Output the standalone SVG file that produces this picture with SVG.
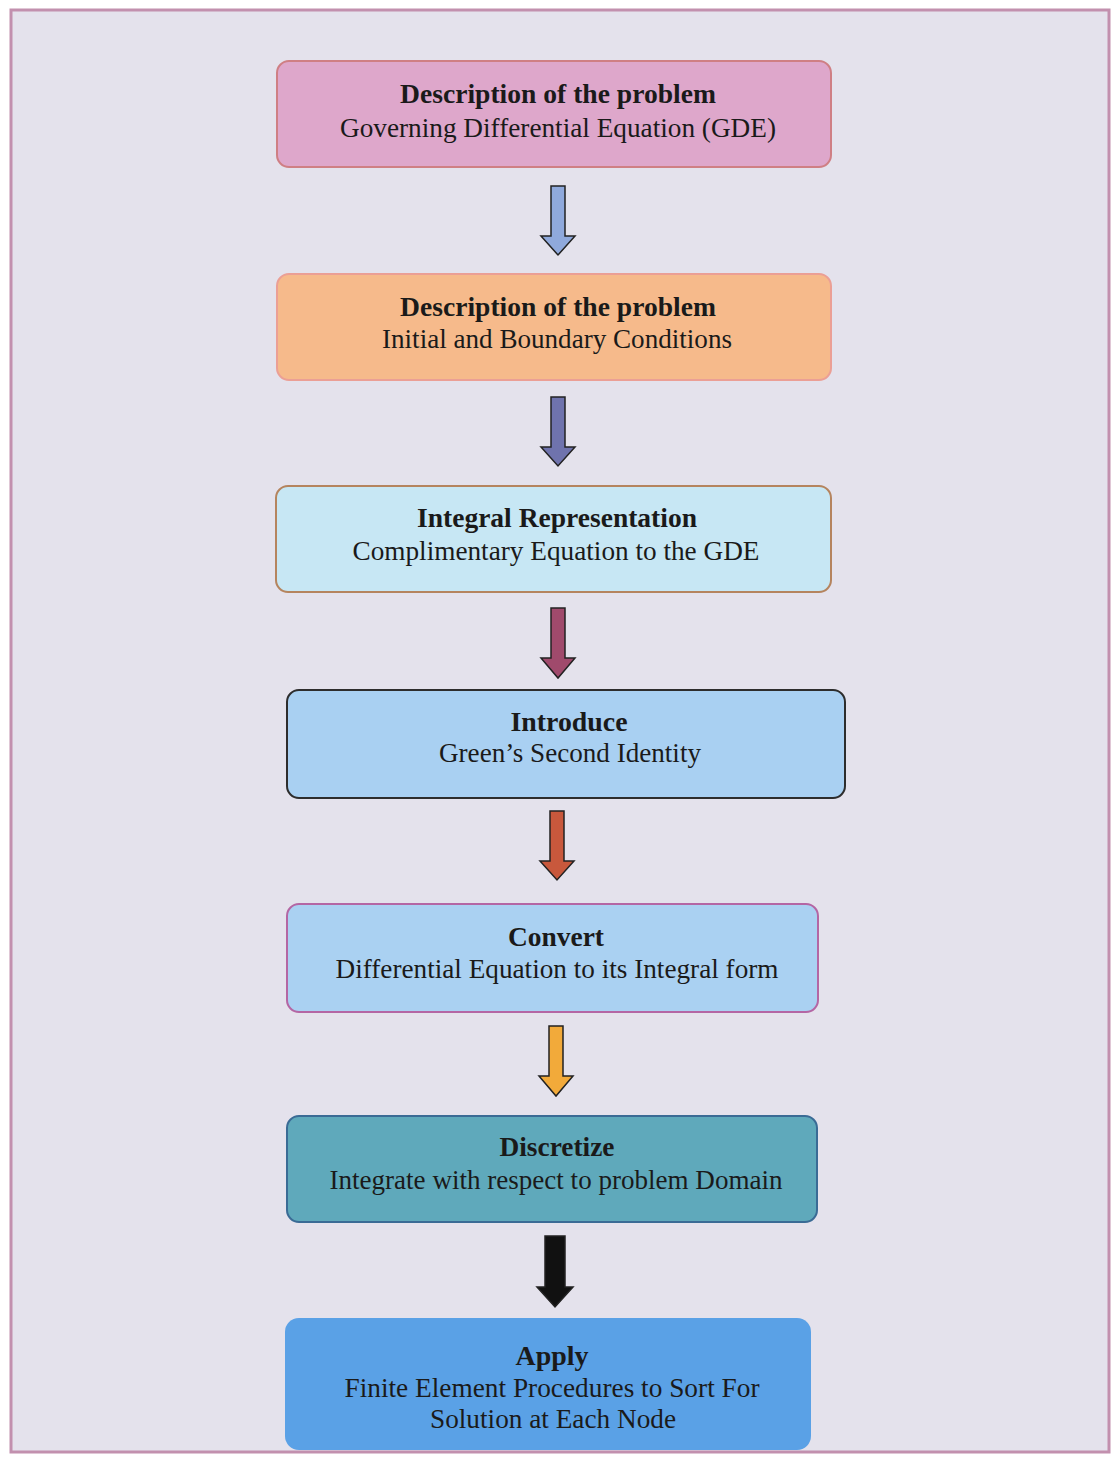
<svg xmlns="http://www.w3.org/2000/svg" width="1114" height="1462" viewBox="0 0 1114 1462">
<style>
.t{font-family:"Liberation Serif","Times New Roman",serif;font-size:27px;fill:#1a1a1a;text-anchor:middle}
.b{font-weight:bold}
.box{stroke-width:2}
.arr{stroke:#222;stroke-width:1.5;stroke-linejoin:miter}
</style>
<rect x="0" y="0" width="1114" height="1462" fill="#ffffff"/>
<rect x="11" y="10" width="1098" height="1442" fill="#e4e2ec" stroke="#c290ae" stroke-width="3"/>
<g id="n1">
<rect class="box" x="277" y="61" width="554" height="106" rx="12" fill="#dea7cb" stroke="#cf7f84"/>
<text class="t b" x="558" y="103" textLength="316" lengthAdjust="spacingAndGlyphs">Description of the problem</text>
<text class="t" x="558" y="137" textLength="436" lengthAdjust="spacingAndGlyphs">Governing Differential Equation (GDE)</text>
</g>
<g id="n2">
<rect class="box" x="277" y="274" width="554" height="106" rx="12" fill="#f6ba8b" stroke="#eb9f95"/>
<text class="t b" x="558" y="316" textLength="316" lengthAdjust="spacingAndGlyphs">Description of the problem</text>
<text class="t" x="557" y="348" textLength="350" lengthAdjust="spacingAndGlyphs">Initial and Boundary Conditions</text>
</g>
<g id="n3">
<rect class="box" x="276" y="486" width="555" height="106" rx="12" fill="#c7e7f4" stroke="#b5845e"/>
<text class="t b" x="557" y="527" textLength="280" lengthAdjust="spacingAndGlyphs">Integral Representation</text>
<text class="t" x="556" y="560" textLength="407" lengthAdjust="spacingAndGlyphs">Complimentary Equation to the GDE</text>
</g>
<g id="n4">
<rect class="box" x="287" y="690" width="558" height="108" rx="12" fill="#a9d0f2" stroke="#2d2d2d"/>
<text class="t b" x="569" y="731" textLength="117" lengthAdjust="spacingAndGlyphs">Introduce</text>
<text class="t" x="570" y="762" textLength="262" lengthAdjust="spacingAndGlyphs">Green’s Second Identity</text>
</g>
<g id="n5">
<rect class="box" x="287" y="904" width="531" height="108" rx="12" fill="#aad1f2" stroke="#b466a4"/>
<text class="t b" x="556" y="946" textLength="96" lengthAdjust="spacingAndGlyphs">Convert</text>
<text class="t" x="557" y="978" textLength="443" lengthAdjust="spacingAndGlyphs">Differential Equation to its Integral form</text>
</g>
<g id="n6">
<rect class="box" x="287" y="1116" width="530" height="106" rx="12" fill="#5fa9bb" stroke="#3a6b95"/>
<text class="t b" x="557" y="1156" textLength="115" lengthAdjust="spacingAndGlyphs">Discretize</text>
<text class="t" x="556" y="1189" textLength="453" lengthAdjust="spacingAndGlyphs">Integrate with respect to problem Domain</text>
</g>
<g id="n7">
<rect x="285" y="1318" width="526" height="132" rx="14" fill="#5aa1e6"/>
<text class="t b" x="552" y="1365" textLength="73" lengthAdjust="spacingAndGlyphs">Apply</text>
<text class="t" x="552" y="1397" textLength="415" lengthAdjust="spacingAndGlyphs">Finite Element Procedures to Sort For</text>
<text class="t" x="553" y="1428" textLength="246" lengthAdjust="spacingAndGlyphs">Solution at Each Node</text>
</g>
<g id="connectors">
<path class="arr" fill="#8fa9dc" d="M551 186 H565 V236 H575 L558 255 L541 236 H551 Z"/>
<path class="arr" fill="#6f73ad" d="M551 397 H565 V447 H575 L558 466 L541 447 H551 Z"/>
<path class="arr" fill="#a04a6c" d="M551 608 H565 V658 H575 L558 678 L541 658 H551 Z"/>
<path class="arr" fill="#c8583c" d="M550 811 H564 V861 H574 L557 880 L540 861 H550 Z"/>
<path class="arr" fill="#f2aa3a" d="M549 1026 H563 V1076 H573 L556 1096 L539 1076 H549 Z"/>
<path class="arr" fill="#111111" d="M545 1236 H565 V1287 H573 L555 1307 L537 1287 H545 Z"/>
</g>
</svg>
